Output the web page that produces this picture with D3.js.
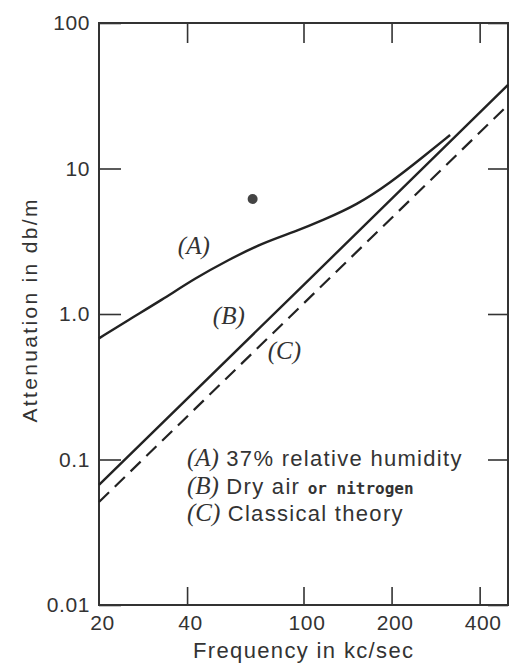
<!DOCTYPE html>
<html>
<head>
<meta charset="utf-8">
<script src="https://cdn.jsdelivr.net/npm/d3@7"></script>
<style>
  body { margin: 0; background: #fff; }
  svg { display: block; }
  .tick text { font-family: "Liberation Sans", Arial, sans-serif; font-size: 21px; letter-spacing: 0.6px; fill: #333; }
  .tick line { stroke: #333; stroke-width: 1.6; }
</style>
</head>
<body>
<div id="chart"></div>
<script>
// frequency in kc/sec, attenuation in db/m
const curveA = [[20, 0.68], [25.2, 0.91], [32.8, 1.25], [42.6, 1.76], [55.3, 2.35], [72, 3.06], [93.6, 3.68],
  [117, 4.43], [152, 5.61], [197, 7.91], [257, 12.05], [317, 17.0]];
const curveB = [[20, 0.067], [100, 1.58], [500, 37.5]];
const curveC = [[20, 0.051], [100, 1.18], [500, 27.3]];
const dotPoint = [[67, 6.17]];

const xTicks = [20, 40, 100, 200, 400];
const xInner = [40, 100, 200, 400];
const yTicks = [0.01, 0.1, 1, 10, 100];
const yLabels = ["0.01", "0.1", "1.0", "10", "100"];

const curveLabels = [
  { text: "(A)", f: 37.2, v: 2.58 },
  { text: "(B)", f: 49, v: 0.853 },
  { text: "(C)", f: 75.5, v: 0.49 }
];

const width = 519, height = 672;
const margin = { top: 23, right: 11, bottom: 67, left: 99 };

const svg = d3.select("#chart").append("svg")
  .attr("width", width)
  .attr("height", height);

const x = d3.scaleLog().domain([20, 500]).range([margin.left, width - margin.right]);
const y = d3.scaleLog().domain([0.01, 100]).range([height - margin.bottom, margin.top]);

// axes with inside ticks
svg.append("g")
  .attr("transform", `translate(0,${height - margin.bottom})`)
  .call(d3.axisBottom(x).tickValues(xTicks).tickSize(0).tickPadding(10).tickFormat(d3.format("d")))
  .call(g => g.select(".domain").remove())
  .call(g => g.selectAll(".tick text").attr("dx", 3));

svg.append("g")
  .attr("transform", `translate(0,${height - margin.bottom})`)
  .call(d3.axisBottom(x).tickValues(xInner).tickSize(-18).tickFormat(""))
  .call(g => g.select(".domain").remove());

svg.append("g")
  .attr("transform", `translate(0,${margin.top})`)
  .call(d3.axisTop(x).tickValues(xInner).tickSize(-20).tickFormat(""))
  .call(g => g.select(".domain").remove());

svg.append("g")
  .attr("transform", `translate(${margin.left},0)`)
  .call(d3.axisLeft(y).tickValues(yTicks).tickSize(-22).tickPadding(9).tickFormat((d, i) => yLabels[i]))
  .call(g => g.select(".domain").remove());

svg.append("g")
  .attr("transform", `translate(${width - margin.right},0)`)
  .call(d3.axisRight(y).tickValues(yTicks).tickSize(-20).tickFormat(""))
  .call(g => g.select(".domain").remove());

// frame
svg.append("rect")
  .attr("x", x(20)).attr("y", y(100))
  .attr("width", x(500) - x(20)).attr("height", y(0.01) - y(100))
  .attr("fill", "none").attr("stroke", "#333").attr("stroke-width", 2);

const line = d3.line().x(d => x(d[0])).y(d => y(d[1]));

svg.append("path").datum(curveA)
  .attr("d", line.curve(d3.curveBasis))
  .attr("fill", "none").attr("stroke", "#222").attr("stroke-width", 2.4);

svg.append("path").datum(curveB)
  .attr("d", line.curve(d3.curveLinear))
  .attr("fill", "none").attr("stroke", "#222").attr("stroke-width", 2.4);

svg.append("path").datum(curveC)
  .attr("d", line.curve(d3.curveLinear))
  .attr("fill", "none").attr("stroke", "#222").attr("stroke-width", 2.2)
  .attr("stroke-dasharray", "14,8");

svg.selectAll("circle").data(dotPoint).enter().append("circle")
  .attr("cx", d => x(d[0])).attr("cy", d => y(d[1])).attr("r", 5)
  .attr("fill", "#444");

svg.selectAll(".clabel").data(curveLabels).enter().append("text")
  .attr("class", "clabel")
  .attr("x", d => x(d.f)).attr("y", d => y(d.v))
  .attr("font-family", "Liberation Serif, serif").attr("font-style", "italic")
  .attr("font-size", 25).attr("fill", "#333")
  .text(d => d.text);

// legend
const legend = svg.append("g").attr("font-size", 22).attr("fill", "#333");
const rows = [
  { key: "(A)", text: " 37% relative humidity", extra: "", y: 466 },
  { key: "(B)", text: " Dry air ", extra: "or nitrogen", y: 494 },
  { key: "(C)", text: " Classical theory", extra: "", y: 521 }
];
rows.forEach(r => {
  const t = legend.append("text").attr("x", 187).attr("y", r.y);
  t.append("tspan").attr("font-family", "Liberation Serif, serif").attr("font-style", "italic")
    .attr("font-size", 25).text(r.key);
  t.append("tspan").attr("font-family", "Liberation Sans, sans-serif").attr("letter-spacing", 1.3).text(r.text);
  if (r.extra) {
    t.append("tspan").attr("font-family", "DejaVu Sans Mono, monospace").attr("font-weight", "bold")
      .attr("font-size", 16).text(r.extra);
  }
});

// axis titles
svg.append("text")
  .attr("x", 303).attr("y", 658)
  .attr("text-anchor", "middle")
  .attr("font-family", "Liberation Sans, sans-serif").attr("font-size", 22).attr("fill", "#333")
  .attr("textLength", 220).attr("lengthAdjust", "spacing")
  .text("Frequency in kc/sec");

svg.append("text")
  .attr("transform", "translate(37,311) rotate(-90)")
  .attr("text-anchor", "middle")
  .attr("font-family", "Liberation Sans, sans-serif").attr("font-size", 21).attr("fill", "#333")
  .attr("textLength", 223).attr("lengthAdjust", "spacing")
  .text("Attenuation in db/m");
</script>
</body>
</html>
